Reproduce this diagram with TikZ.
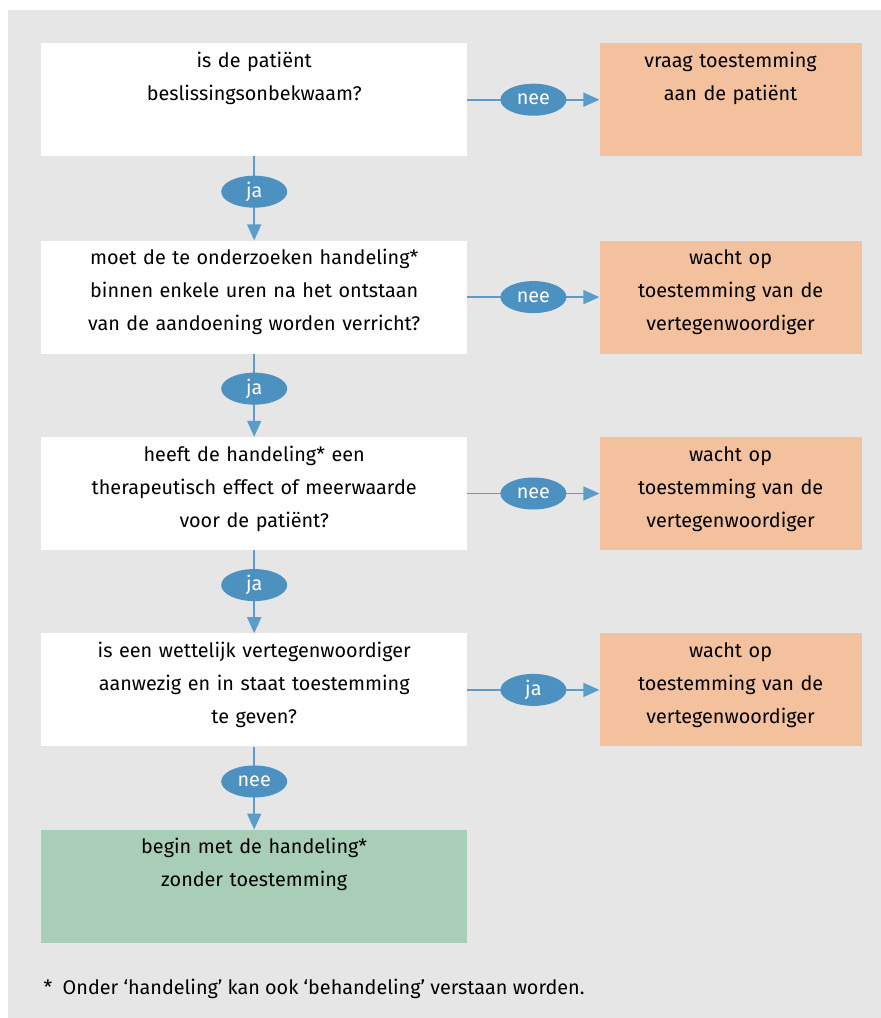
\documentclass[tikz,border=0pt]{standalone}
\usepackage{fontspec}
\setmainfont{Fira Sans}
\usepackage{tikz}
\usetikzlibrary{arrows.meta,positioning,shapes.geometric}
\usepackage{xcolor}
\definecolor{bgGrey}{HTML}{E6E6E6}
\definecolor{tagBlue}{HTML}{4C91BF}
\definecolor{lineBlue}{HTML}{5A9DCB}
\definecolor{actOrange}{HTML}{F3C19D}
\definecolor{endGreen}{HTML}{A9CEB7}

\begin{document}
\begin{tikzpicture}[
  x=1pt, y=1pt,
  font=\fontsize{19.8}{33}\selectfont,
  qbox/.style={fill=#1, draw=none, align=center, inner sep=0pt,
    text width=410pt, minimum width=426pt,
    text height=24pt, text depth=89pt},
  qbox/.default=white,
  abox/.style={fill=actOrange, draw=none, align=center, inner sep=0pt,
    text width=255pt, minimum width=262pt,
    text height=24pt, text depth=89pt},
  tag/.style={ellipse, fill=tagBlue, text=white, inner sep=0pt,
    minimum width=66pt, minimum height=32pt},
  arr/.style={-{Triangle[length=16pt,width=14pt]}, line width=1.6pt, lineBlue}
]
\useasboundingbox (0,0) rectangle (881,-1018);
\fill[bgGrey] (8,-10) rectangle (881,-1018);
% questions
\node[qbox, anchor=north west] (q1) at (41,-43) {is de patiënt\\beslissingsonbekwaam?};
\node[qbox, below=84pt of q1] (q2) {moet de te onderzoeken handeling*\\binnen enkele uren na het ontstaan\\van de aandoening worden verricht?};
\node[qbox, below=83pt of q2] (q3) {heeft de handeling* een\\therapeutisch effect of meerwaarde\\voor de patiënt?};
\node[qbox, below=83pt of q3] (q4) {is een wettelijk vertegenwoordiger\\aanwezig en in staat toestemming\\te geven?};
\node[qbox=endGreen, below=83pt of q4] (go) {begin met de handeling*\\zonder toestemming};
% answers
\node[abox, right=132pt of q1] (a1) {vraag toestemming\\aan de patiënt};
\node[abox, right=132pt of q2] (a2) {wacht op\\toestemming van de\\vertegenwoordiger};
\node[abox, right=132pt of q3] (a3) {wacht op\\toestemming van de\\vertegenwoordiger};
\node[abox, right=132pt of q4] (a4) {wacht op\\toestemming van de\\vertegenwoordiger};
% connectors
\draw[arr] (q1) -- node[tag, pos=0.42] {ja} (q2);
\draw[arr] (q2) -- node[tag, pos=0.42] {ja} (q3);
\draw[arr] (q3) -- node[tag, pos=0.42] {ja} (q4);
\draw[arr] (q4) -- node[tag, pos=0.42] {nee} (go);
\draw[arr] (q1) -- node[tag] {nee} (a1);
\draw[arr] (q2) -- node[tag] {nee} (a2);
\draw[arr] (q3) -- node[tag] {nee} (a3);
\draw[arr] (q4) -- node[tag] {ja} (a4);
\node[anchor=base west] (note) at (40,-994) {*\ \ Onder ‘handeling’ kan ook ‘behandeling’ verstaan worden.};
\end{tikzpicture}
\end{document}
